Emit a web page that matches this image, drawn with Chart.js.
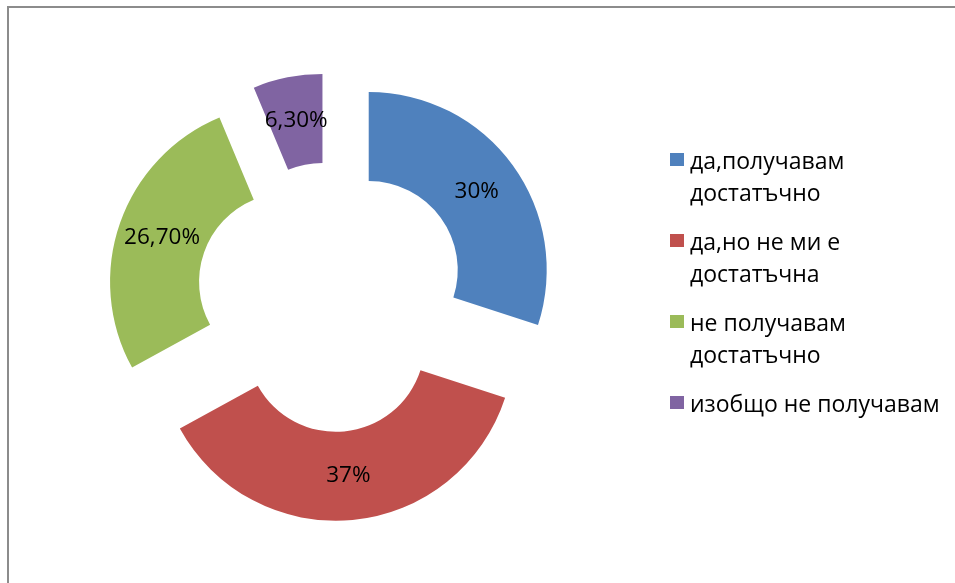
<!DOCTYPE html>
<html>
<head>
<meta charset="utf-8">
<script src="https://cdn.jsdelivr.net/npm/chart.js@4/dist/chart.umd.min.js"></script>
<style>
  html, body { margin: 0; padding: 0; background: #fff; }
  #wrap { position: relative; width: 955px; height: 583px; overflow: hidden; }
  #frame {
    position: absolute; left: 7px; top: 6px; right: -10px; bottom: -10px;
    border-left: 2px solid #8c8c8c; border-top: 2px solid #8c8c8c;
  }
  #legend {
    position: absolute; left: 670px; top: 144px;
    font-family: "Open Sans", sans-serif; font-size: 23px; color: #000;
  }
  #legend .item { position: relative; padding-left: 20px; line-height: 32px; margin-bottom: 17px; white-space: nowrap; }
  #legend .box { position: absolute; left: 0; top: 9px; width: 14px; height: 13px; }
</style>
</head>
<body>
<div id="wrap">
  <div id="frame"></div>
  <canvas id="myChart"></canvas>
  <div id="legend"></div>
</div>
<script>
// категории (на редове, както са в легендата)
var categories = [
  ['да,получавам', 'достатъчно'],
  ['да,но не ми е', 'достатъчна'],
  ['не получавам', 'достатъчно'],
  ['изобщо не получавам']
];
// проценти
var percents = [30, 37, 26.7, 6.3];
// цветове
var colors = ['#4f81bd', '#c0504d', '#9bbb59', '#8064a2'];

// с колко пиксела се раздалечават парчетата
var explodeBy = 46;

function formatPct(v) {
  if (Number.isInteger(v)) return v + '%';
  return v.toFixed(2).replace('.', ',') + '%';
}

// рисува парчетата изместени навън + етикетите
var explodePlugin = {
  id: 'explode',
  beforeDatasetDraw: function(chart, args) {
    var ctx = chart.ctx;
    args.meta.data.forEach(function(arc) {
      var mid = (arc.startAngle + arc.endAngle) / 2;
      ctx.save();
      ctx.translate(Math.cos(mid) * explodeBy, Math.sin(mid) * explodeBy);
      arc.draw(ctx);
      ctx.restore();
    });
    return false;
  },
  afterDatasetsDraw: function(chart) {
    var ctx = chart.ctx;
    var meta = chart.getDatasetMeta(0);
    ctx.save();
    ctx.font = '22.5px "Open Sans", sans-serif';
    ctx.fillStyle = '#000';
    ctx.textAlign = 'center';
    ctx.textBaseline = 'middle';
    meta.data.forEach(function(arc, i) {
      var mid = (arc.startAngle + arc.endAngle) / 2;
      var p = arc.getCenterPoint();
      ctx.fillText(formatPct(percents[i]),
        p.x + Math.cos(mid) * explodeBy,
        p.y + Math.sin(mid) * explodeBy);
    });
    ctx.restore();
  }
};

var ctx = document.getElementById('myChart').getContext('2d');
var myChart = new Chart(ctx, {
  type: 'doughnut',
  data: {
    labels: categories,
    datasets: [{
      data: percents,
      backgroundColor: colors,
      borderWidth: 0,
      hoverOffset: 0
    }]
  },
  options: {
    responsive: true,
    maintainAspectRatio: false,
    animation: false,
    cutout: '50%',
    layout: { padding: { left: 153.5, right: 445.5, top: 119, bottom: 108 } },
    plugins: {
      legend: { display: false },
      tooltip: { enabled: false }
    },
    events: []
  },
  plugins: [explodePlugin]
});

// легенда като html
var legendEl = document.getElementById('legend');
categories.forEach(function(lines, i) {
  var item = document.createElement('div');
  item.className = 'item';
  var box = document.createElement('span');
  box.className = 'box';
  box.style.background = colors[i];
  item.appendChild(box);
  item.appendChild(document.createTextNode(lines[0]));
  for (var k = 1; k < lines.length; k++) {
    item.appendChild(document.createElement('br'));
    item.appendChild(document.createTextNode(lines[k]));
  }
  legendEl.appendChild(item);
});
</script>
</body>
</html>
